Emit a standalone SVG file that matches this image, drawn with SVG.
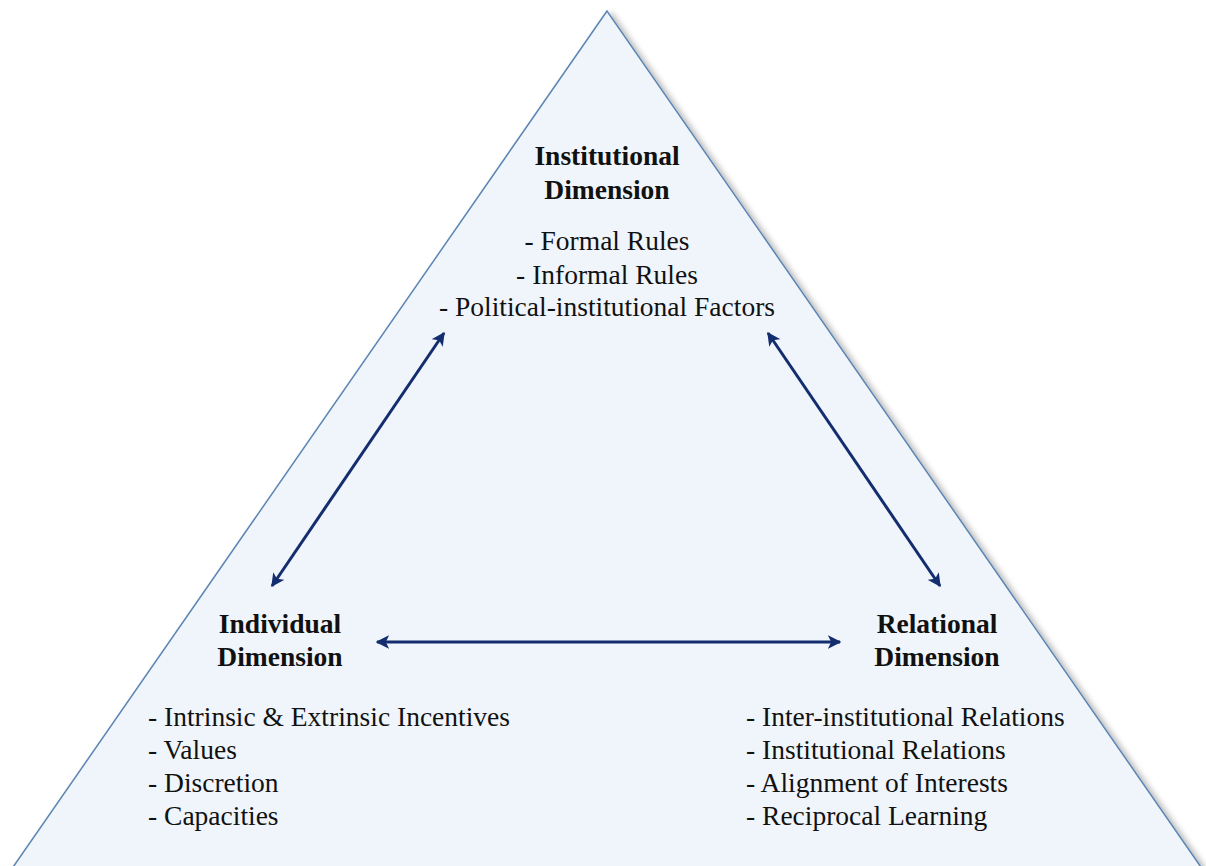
<svg xmlns="http://www.w3.org/2000/svg" width="1206" height="866" viewBox="0 0 1206 866">
<style>
.arr{stroke:#132d6e;stroke-width:3;fill:none}
</style>
<defs>
<marker id="ah" viewBox="0 0 10 10" refX="9" refY="5" markerWidth="4.5" markerHeight="4.5" orient="auto-start-reverse" markerUnits="strokeWidth">
<path d="M0,0 L10,5 L0,10 L2.5,5 z" fill="#132d6e"/>
</marker>
<filter id="sh" x="-5%" y="-5%" width="110%" height="110%">
<feGaussianBlur in="SourceAlpha" stdDeviation="3"/>
<feOffset dx="4" dy="2"/>
<feComponentTransfer><feFuncA type="linear" slope="0.3"/></feComponentTransfer>
<feMerge><feMergeNode/><feMergeNode in="SourceGraphic"/></feMerge>
</filter>
</defs>
<rect width="1206" height="866" fill="#fff"/>
<g id="triangle">
<polygon points="607,11 11,870 1203,870" fill="#eff5fb" stroke="#5b85b3" stroke-width="1.5" filter="url(#sh)"/>
</g>
<g id="connectors">
<line class="arr" marker-start="url(#ah)" marker-end="url(#ah)" x1="272" y1="586" x2="444" y2="333"/>
<line class="arr" marker-start="url(#ah)" marker-end="url(#ah)" x1="940" y1="586" x2="768" y2="333"/>
<line class="arr" marker-start="url(#ah)" marker-end="url(#ah)" x1="377" y1="642" x2="840" y2="642"/>
</g>
<g id="institutional">
<text font-family="Liberation Serif" font-size="27.5" font-weight="bold" fill="#111" text-anchor="middle" x="607" y="165">Institutional</text>
<text font-family="Liberation Serif" font-size="27.5" font-weight="bold" fill="#111" text-anchor="middle" x="607" y="199">Dimension</text>
<text font-family="Liberation Serif" font-size="27.5" fill="#111" text-anchor="middle" x="607" y="250">- Formal Rules</text>
<text font-family="Liberation Serif" font-size="27.5" fill="#111" text-anchor="middle" x="607" y="284">- Informal Rules</text>
<text font-family="Liberation Serif" font-size="27.5" fill="#111" text-anchor="middle" x="607" y="316">- Political-institutional Factors</text>
</g>
<g id="individual">
<text font-family="Liberation Serif" font-size="27.5" font-weight="bold" fill="#111" text-anchor="middle" x="280" y="633">Individual</text>
<text font-family="Liberation Serif" font-size="27.5" font-weight="bold" fill="#111" text-anchor="middle" x="280" y="666">Dimension</text>
<text font-family="Liberation Serif" font-size="27.5" fill="#111" x="148" y="726">- Intrinsic &amp; Extrinsic Incentives</text>
<text font-family="Liberation Serif" font-size="27.5" fill="#111" x="148" y="759">- Values</text>
<text font-family="Liberation Serif" font-size="27.5" fill="#111" x="148" y="792">- Discretion</text>
<text font-family="Liberation Serif" font-size="27.5" fill="#111" x="148" y="825">- Capacities</text>
</g>
<g id="relational">
<text font-family="Liberation Serif" font-size="27.5" font-weight="bold" fill="#111" text-anchor="middle" x="937" y="633">Relational</text>
<text font-family="Liberation Serif" font-size="27.5" font-weight="bold" fill="#111" text-anchor="middle" x="937" y="666">Dimension</text>
<text font-family="Liberation Serif" font-size="27.5" fill="#111" x="746" y="726">- Inter-institutional Relations</text>
<text font-family="Liberation Serif" font-size="27.5" fill="#111" x="746" y="759">- Institutional Relations</text>
<text font-family="Liberation Serif" font-size="27.5" fill="#111" x="746" y="792">- Alignment of Interests</text>
<text font-family="Liberation Serif" font-size="27.5" fill="#111" x="746" y="825">- Reciprocal Learning</text>
</g>
</svg>
